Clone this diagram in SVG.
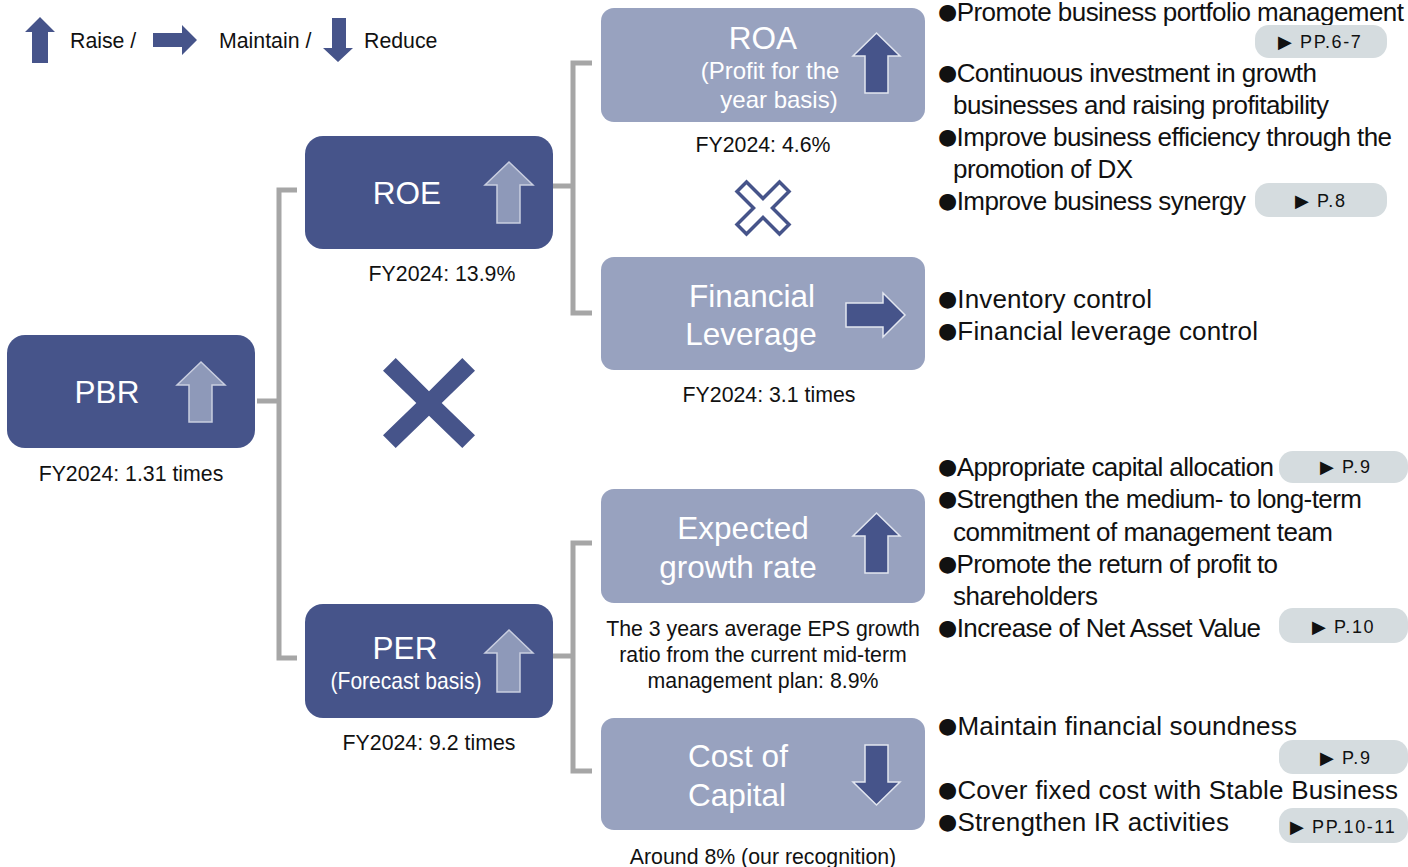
<svg xmlns="http://www.w3.org/2000/svg" width="1408" height="867" viewBox="0 0 1408 867">
<style>
.dark{fill:#46548a}
.light{fill:#98a2bf}
.t{font-family:"Liberation Sans",Arial,sans-serif;fill:#fff}
.big{font-size:31.5px}
.sub{font-size:24px}
.cap{font-family:"Liberation Sans",Arial,sans-serif;font-size:21.3px;fill:#111;text-anchor:middle}
.r{font-family:"Liberation Sans","DejaVu Sans",Arial,sans-serif;font-size:26px;fill:#111}
.b{font-family:"DejaVu Sans",sans-serif;font-size:22px;baseline-shift:2px}
.pill{fill:#d5dcdf}
.pt{font-family:"Liberation Sans","DejaVu Sans",Arial,sans-serif;font-size:18px;fill:#111;letter-spacing:1.6px}
.ua{fill:#8e99b9;stroke:#c9cee0;stroke-width:1.5}
.da{fill:#46548a;stroke:#e2e6f0;stroke-width:1.5}
.la{fill:#46548a}
.conn{fill:none;stroke:#a6a6a6;stroke-width:5}
</style>
<rect width="1408" height="867" fill="#fff"/>

<g id="legend">
<polygon class="la" points="40,17 55,32 48,32 48,63 32,63 32,32 25,32"/>
<text class="cap" x="70" y="48" style="text-anchor:start">Raise /</text>
<polygon class="la" points="153,33 182,33 182,25 197,40 182,55 182,47 153,47"/>
<text class="cap" x="219" y="48" style="text-anchor:start">Maintain /</text>
<polygon class="la" points="332,18 346,18 346,48 353,48 338,62 323,48 332,48"/>
<text class="cap" x="364" y="48" style="text-anchor:start">Reduce</text>
</g>

<g id="connectors">
<path class="conn" d="M257,401 H279 M297,190 H279 V658 H297"/>
<path class="conn" d="M553,186 H573 M592,63 H573 V313 H592"/>
<path class="conn" d="M553,656 H573 M592,543 H573 V771 H592"/>
</g>

<g id="pbr">
<rect class="dark" x="7" y="335" width="248" height="113" rx="18"/>
<text class="t big" x="107" y="403" text-anchor="middle">PBR</text>
<polygon class="ua" points="201,362 225,385 212,385 212,422 189,422 189,385 177,385"/>
<text class="cap" x="131" y="481">FY2024: 1.31 times</text>
</g>

<g id="roe">
<rect class="dark" x="305" y="136" width="248" height="113" rx="18"/>
<text class="t big" x="407" y="204" text-anchor="middle">ROE</text>
<polygon class="ua" points="509,162 533,185 520,185 520,223 497,223 497,185 485,185"/>
<text class="cap" x="442" y="281">FY2024: 13.9%</text>
</g>

<g id="per">
<rect class="dark" x="305" y="604" width="248" height="114" rx="18"/>
<text class="t big" x="405" y="659" text-anchor="middle">PER</text>
<text class="t sub" x="406" y="689" text-anchor="middle" textLength="151" lengthAdjust="spacingAndGlyphs">(Forecast basis)</text>
<polygon class="ua" points="509,630 533,653 520,653 520,692 497,692 497,653 485,653"/>
<text class="cap" x="429" y="750">FY2024: 9.2 times</text>
</g>

<g id="bigx">
<polygon class="la" points="383,370.7 395.7,358 429,391.3 462.3,358 475,370.7 441.7,403 475,435.3 462.3,448 429,415.7 395.7,448 383,435.3 416.3,403"/>
</g>

<g id="roa">
<rect class="light" x="601" y="8" width="324" height="114" rx="13"/>
<text class="t big" x="763" y="49" text-anchor="middle">ROA</text>
<text class="t sub" x="770" y="79" text-anchor="middle">(Profit for the</text>
<text class="t sub" x="779" y="108" text-anchor="middle">year basis)</text>
<polygon class="da" points="876.5,33 900,56 888,56 888,93 865,93 865,56 853,56"/>
<text class="cap" x="763" y="152">FY2024: 4.6%</text>
</g>

<g id="smallx">
<polygon fill="#fff" stroke="#46548a" stroke-width="3.5" stroke-linejoin="miter" points="737,191.5 746.5,182 763,198.5 779.5,182 789,191.5 772.5,208 789,224.5 779.5,234 763,217.5 746.5,234 737,224.5 753.5,208"/>
</g>

<g id="finlev">
<rect class="light" x="601" y="257" width="324" height="113" rx="13"/>
<text class="t big" x="752" y="307" text-anchor="middle">Financial</text>
<text class="t big" x="751" y="345" text-anchor="middle">Leverage</text>
<polygon class="da" points="846,303 883,303 883,293 905,315 883,337 883,327 846,327"/>
<text class="cap" x="769" y="402">FY2024: 3.1 times</text>
</g>

<g id="growth">
<rect class="light" x="601" y="489" width="324" height="114" rx="13"/>
<text class="t big" x="743" y="539" text-anchor="middle">Expected</text>
<text class="t big" x="738" y="578" text-anchor="middle">growth rate</text>
<polygon class="da" points="876.5,513 900,536 888,536 888,573 865,573 865,536 853,536"/>
<text class="cap" x="763" y="636">The 3 years average EPS growth</text>
<text class="cap" x="763" y="662">ratio from the current mid-term</text>
<text class="cap" x="763" y="688">management plan: 8.9%</text>
</g>

<g id="costcap">
<rect class="light" x="601" y="718" width="324" height="112" rx="13"/>
<text class="t big" x="738" y="767" text-anchor="middle">Cost of</text>
<text class="t big" x="737" y="806" text-anchor="middle">Capital</text>
<polygon class="da" points="865,745 888,745 888,782 900,782 876.5,805 853,782 865,782"/>
<text class="cap" x="763" y="864">Around 8% (our recognition)</text>
</g>

<g id="actions-roa">
<text class="r" x="938" y="20.5" textLength="466"><tspan class="b">●</tspan>Promote business portfolio management</text>
<rect class="pill" x="1255" y="25" width="132" height="33" rx="14"/>
<text class="pt" x="1278" y="48">▶ PP.6-7</text>
<text class="r" x="938" y="82" textLength="379"><tspan class="b">●</tspan>Continuous investment in growth</text>
<text class="r" x="953" y="114" textLength="376">businesses and raising profitability</text>
<text class="r" x="938" y="146" textLength="454"><tspan class="b">●</tspan>Improve business efficiency through the</text>
<text class="r" x="953" y="178" textLength="180">promotion of DX</text>
<text class="r" x="938" y="210" textLength="308"><tspan class="b">●</tspan>Improve business synergy</text>
<rect class="pill" x="1255" y="183" width="132" height="34" rx="14"/>
<text class="pt" x="1295" y="207">▶ P.8</text>
</g>

<g id="actions-lev">
<text class="r" x="938" y="308" textLength="214"><tspan class="b">●</tspan>Inventory control</text>
<text class="r" x="938" y="340" textLength="320"><tspan class="b">●</tspan>Financial leverage control</text>
</g>

<g id="actions-growth">
<text class="r" x="938" y="476" textLength="336"><tspan class="b">●</tspan>Appropriate capital allocation</text>
<rect class="pill" x="1279" y="451" width="129" height="32" rx="14"/>
<text class="pt" x="1320" y="473">▶ P.9</text>
<text class="r" x="938" y="508" textLength="424"><tspan class="b">●</tspan>Strengthen the medium- to long-term</text>
<text class="r" x="953" y="541" textLength="380">commitment of management team</text>
<text class="r" x="938" y="573" textLength="340"><tspan class="b">●</tspan>Promote the return of profit to</text>
<text class="r" x="953" y="605" textLength="145">shareholders</text>
<text class="r" x="938" y="637" textLength="323"><tspan class="b">●</tspan>Increase of Net Asset Value</text>
<rect class="pill" x="1279" y="608" width="129" height="35" rx="14"/>
<text class="pt" x="1312" y="633">▶ P.10</text>
</g>

<g id="actions-cost">
<text class="r" x="938" y="735" textLength="359"><tspan class="b">●</tspan>Maintain financial soundness</text>
<rect class="pill" x="1279" y="740" width="129" height="34" rx="14"/>
<text class="pt" x="1320" y="764">▶ P.9</text>
<text class="r" x="938" y="799" textLength="460"><tspan class="b">●</tspan>Cover fixed cost with Stable Business</text>
<text class="r" x="938" y="831" textLength="291"><tspan class="b">●</tspan>Strengthen IR activities</text>
<rect class="pill" x="1279" y="808" width="129" height="35" rx="14"/>
<text class="pt" x="1290" y="833">▶ PP.10-11</text>
</g>
</svg>
